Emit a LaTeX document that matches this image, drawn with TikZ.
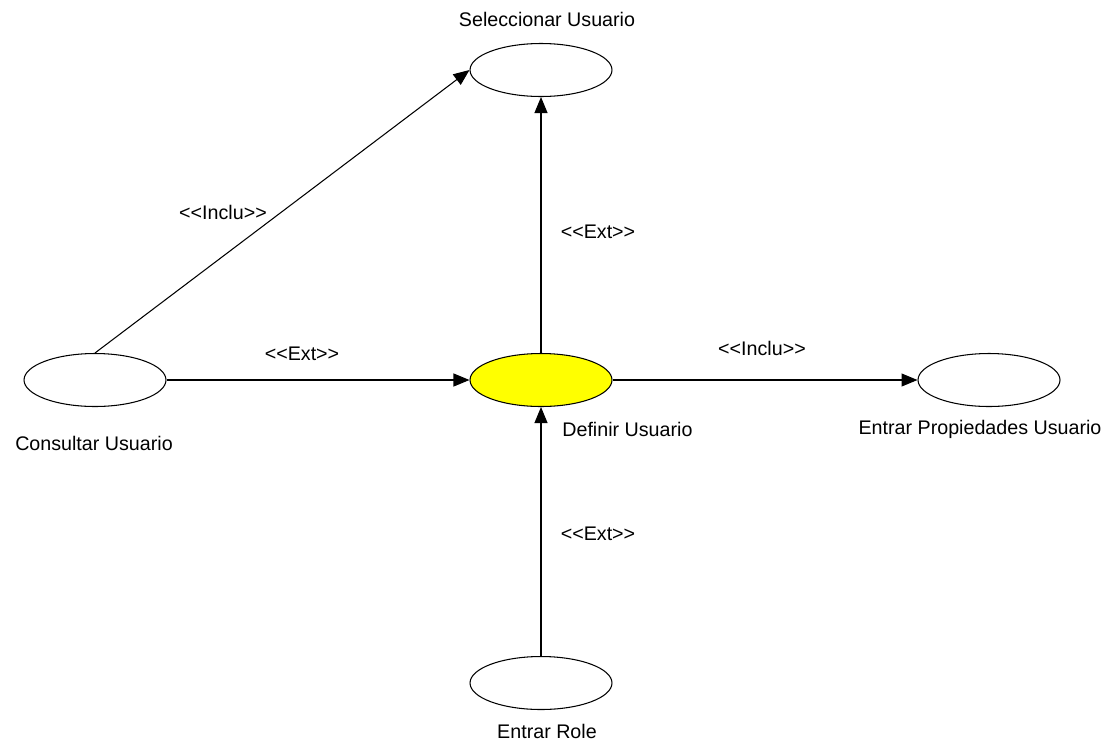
\documentclass[tikz,border=0pt]{standalone}
\usepackage{fontspec}
\setmainfont{Liberation Sans}
\usetikzlibrary{arrows.meta,shapes.geometric}
\definecolor{ucyellow}{RGB}{255,255,0}
\tikzset{
  usecase/.style={draw=black, line width=0.6pt, ellipse, minimum width=2.84cm, minimum height=1.06cm, inner sep=0pt},
  lbl/.style={font=\fontsize{11.2}{13}\selectfont, inner sep=0pt},
  conn/.style={draw=black, line width=0.6pt, -{Triangle[length=0.32cm, width=0.26cm]}}
}
\begin{document}
\begin{tikzpicture}[x=0.02cm, y=-0.02cm]
\useasboundingbox (0,0) rectangle (1108,744);
\node[usecase] (sel) at (541,70) {};
\node[usecase] (con) at (95,380) {};
\node[usecase, fill=ucyellow] (def) at (541,380) {};
\node[usecase] (prop) at (989,380) {};
\node[usecase] (role) at (541,683) {};

\node[lbl] (tsel) at (547,19) {Seleccionar Usuario};
\node[lbl] (tcon) at (94,443) {Consultar Usuario};
\node[lbl, anchor=west] (tdef) at (562,429) {Definir Usuario};
\node[lbl] (tprop) at (980,429) {Entrar Propiedades Usuario};
\node[lbl] (trole) at (547,731) {Entrar Role};

\draw[conn] (con.north) -- (sel.west);
\draw[conn] (con.east) -- (def.west);
\draw[conn] (def.north) -- (sel.south);
\draw[conn] (def.east) -- (prop.west);
\draw[conn] (role.north) -- (def.south);

\node[lbl] (l1) at (223,212) {{<}{<}Inclu{>}{>}};
\node[lbl] (l2) at (302,354) {{<}{<}Ext{>}{>}};
\node[lbl] (l3) at (598,232) {{<}{<}Ext{>}{>}};
\node[lbl] (l4) at (762,348) {{<}{<}Inclu{>}{>}};
\node[lbl] (l5) at (598,534) {{<}{<}Ext{>}{>}};
\end{tikzpicture}
\end{document}
